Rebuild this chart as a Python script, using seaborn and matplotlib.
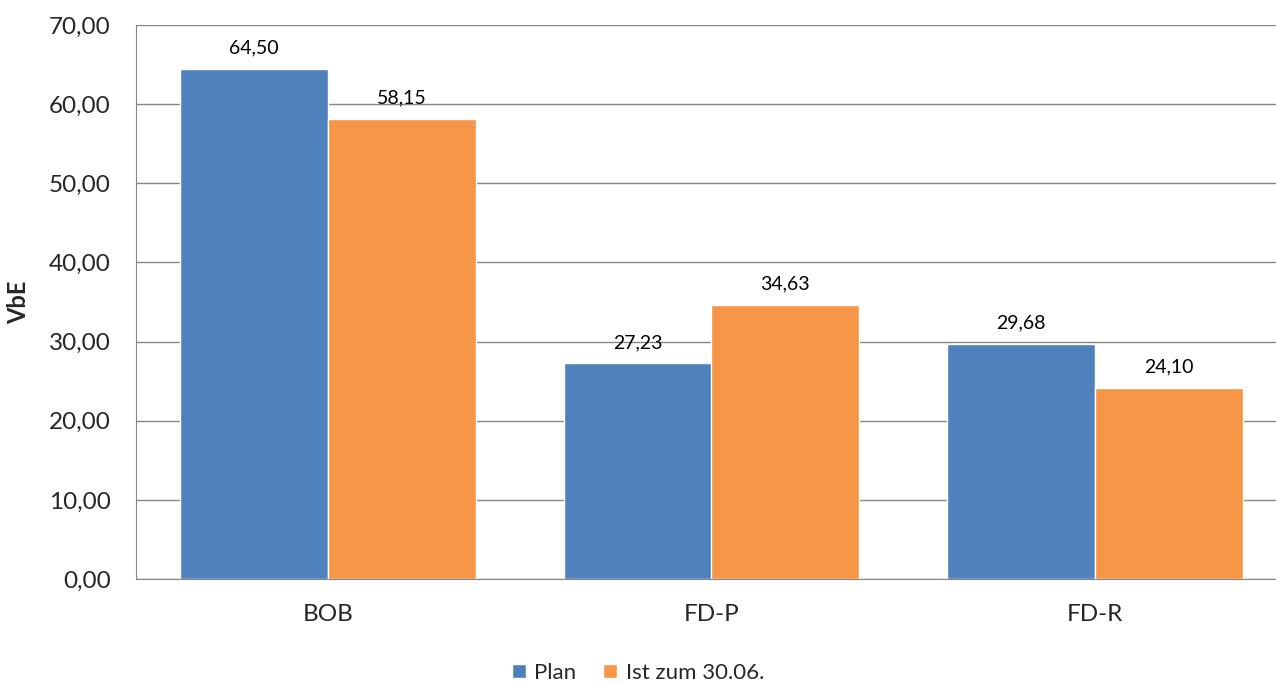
import matplotlib
import matplotlib.pyplot as plt
import pandas as pd
import seaborn as sns
from matplotlib.ticker import FuncFormatter

categories = ["BOB", "FD-P", "FD-R"]
series_names = ["Plan", "Ist zum 30.06."]
plan_values = [64.50, 27.23, 29.68]
ist_values = [58.15, 34.63, 24.10]
y_ticks = [0, 10, 20, 30, 40, 50, 60, 70]

colors = ["#4F81BD", "#F79646"]

sns.set_style("white")
matplotlib.rcParams["font.family"] = ["Lato", "DejaVu Sans"]


def de_fmt(v, pos=None):
    return f"{v:.2f}".replace(".", ",")


frame = pd.DataFrame({
    "category": categories * 2,
    "series": [series_names[0]] * 3 + [series_names[1]] * 3,
    "value": plan_values + ist_values,
})

fig = plt.figure(figsize=(12.76, 6.84), dpi=100)
ax = fig.add_axes([136 / 1276, 1 - 579 / 684, 1151 / 1276, 554 / 684])

sns.barplot(
    data=frame, x="category", y="value", hue="series",
    palette=colors, width=0.77, saturation=1, ax=ax, legend=True,
)

for container in ax.containers:
    ax.bar_label(container, labels=[de_fmt(v) for v in container.datavalues],
                 padding=9, fontsize=14, color="black")

ax.set_ylim(0, 70)
ax.set_yticks(y_ticks)
ax.yaxis.set_major_formatter(FuncFormatter(de_fmt))
ax.grid(axis="y", color="#868686", linewidth=1)
ax.set_axisbelow(True)
ax.set_xlim(-0.5, 2.5)
ax.set_xticks([-0.5, 0.5, 1.5, 2.5], minor=True)
ax.tick_params(axis="x", which="minor", length=6, color="#868686")
ax.tick_params(axis="x", which="major", length=0, labelsize=17.5, pad=18)
ax.tick_params(axis="y", length=6, color="#868686", labelsize=17.5, direction="out", pad=12)
ax.set_xlabel("")
ax.set_ylabel("VbE", fontsize=17, fontweight="bold")
ax.yaxis.set_label_coords((30 - 136) / 1151, 0.5)
for side in ["top", "right"]:
    ax.spines[side].set_visible(False)
for side in ["left", "bottom"]:
    ax.spines[side].set_color("#868686")

handles, labels = ax.get_legend_handles_labels()
ax.get_legend().remove()
fig.legend(handles, labels, loc="center", bbox_to_anchor=(0.5, 1 - 673 / 684),
           ncol=2, frameon=False, fontsize=16, handlelength=0.63, handleheight=0.63,
           handletextpad=0.4, columnspacing=1.2)

fig.savefig("out.png", dpi=100)
